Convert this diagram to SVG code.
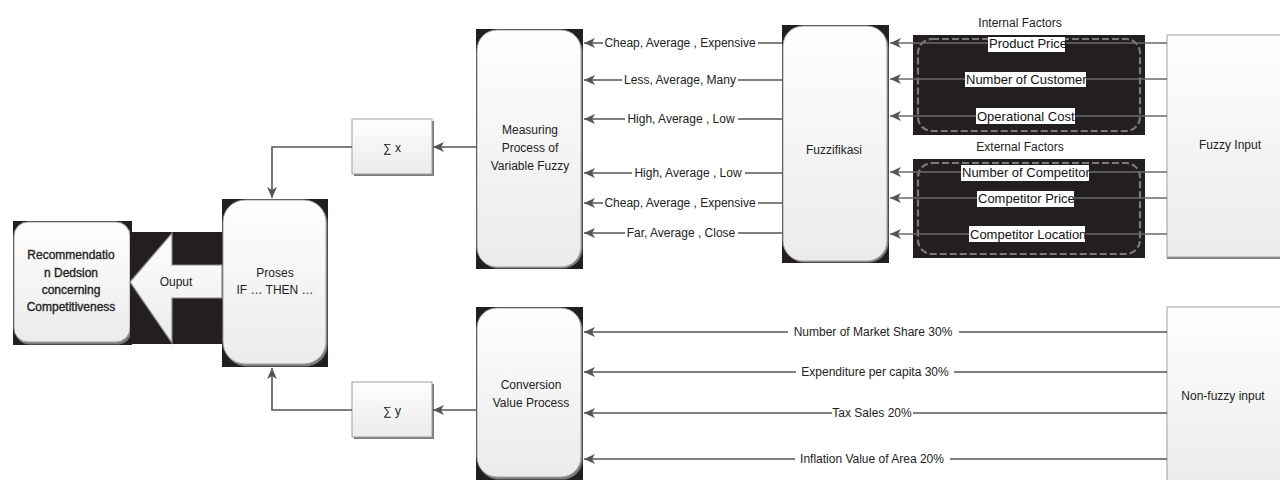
<svg xmlns="http://www.w3.org/2000/svg" width="1280" height="480" viewBox="0 0 1280 480">
<style>
.t{font-family:"Liberation Sans",Arial,sans-serif;font-size:12px;fill:#222;text-anchor:middle}
.tb{font-family:"Liberation Sans",Arial,sans-serif;font-size:12px;fill:#222;text-anchor:middle;stroke:#222;stroke-width:0.35}
.fl{font-family:"Liberation Sans",Arial,sans-serif;font-size:13px;fill:#111;text-anchor:start}
.bk{fill:#231f20}
.box{fill:url(#g);stroke:#a0a0a0;stroke-width:1}
.sh{fill:#7a7a7a}
.dash{fill:none;stroke:#7a7a7a;stroke-width:2.2;stroke-dasharray:7 3}
.c{stroke:#555;stroke-width:1.6;fill:none;marker-end:url(#a)}
.cl{stroke:#6a6a6a;stroke-width:1.6;fill:none;marker-end:url(#a)}
.wb{fill:#fff}
</style>
<defs>
<linearGradient id="g" x1="0" y1="0" x2="0" y2="1">
<stop offset="0" stop-color="#fefefe"/>
<stop offset="1" stop-color="#ebebeb"/>
</linearGradient>
<marker id="a" markerUnits="userSpaceOnUse" markerWidth="12" markerHeight="10" refX="11" refY="5" orient="auto">
<path d="M0,0 L11,5 L0,10 L3,5 z" fill="#555"/>
</marker>
</defs>
<rect width="1280" height="480" fill="#fff"/>

<g id="recommendation">
<rect class="bk" x="13" y="221" width="119" height="124"/>
<rect class="sh" x="15.5" y="224.5" width="116" height="120" rx="14"/>
<rect class="box" x="14" y="222" width="116" height="120" rx="14"/>
<text class="tb" x="71" y="259">Recommendatio</text>
<text class="tb" x="71" y="277">n Dedsion</text>
<text class="tb" x="71" y="294">concerning</text>
<text class="tb" x="71" y="311">Competitiveness</text>
</g>

<g id="proses">
<rect class="bk" x="222" y="199" width="106" height="168"/>
<rect class="sh" x="224.5" y="201.5" width="103" height="165" rx="22"/>
<rect class="box" x="223" y="200" width="103" height="164" rx="22"/>
<text class="t" x="275" y="277">Proses</text>
<text class="t" x="275" y="294">IF … THEN …</text>
</g>

<g id="sumx">
<rect class="sh" x="354" y="121" width="80" height="55"/>
<rect class="box" x="352" y="119" width="80" height="55"/>
<text class="t" x="392" y="152">∑ x</text>
</g>

<g id="sumy">
<rect class="sh" x="354" y="384" width="80" height="55"/>
<rect class="box" x="352" y="382" width="80" height="55"/>
<text class="t" x="392" y="415">∑ y</text>
</g>

<g id="measuring">
<rect class="bk" x="476" y="29" width="107" height="240"/>
<rect class="sh" x="478.5" y="31.5" width="104" height="237" rx="20"/>
<rect class="box" x="477" y="30" width="104" height="237" rx="20"/>
<text class="t" x="530" y="134">Measuring</text>
<text class="t" x="530" y="152">Process of</text>
<text class="t" x="530" y="170">Variable Fuzzy</text>
</g>

<g id="conversion">
<rect class="bk" x="476" y="307" width="107" height="173"/>
<rect class="sh" x="478.5" y="309.5" width="104" height="170" rx="20"/>
<rect class="box" x="477" y="308" width="104" height="169" rx="20"/>
<text class="t" x="531" y="389">Conversion</text>
<text class="t" x="531" y="407">Value Process</text>
</g>

<g id="fuzzifikasi">
<rect class="bk" x="782" y="25" width="107" height="238"/>
<rect class="sh" x="784.5" y="27.5" width="104" height="235" rx="20"/>
<rect class="box" x="783" y="26" width="104" height="235" rx="20"/>
<text class="t" x="834" y="154">Fuzzifikasi</text>
</g>

<g id="internal-factors">
<text class="t" x="1020" y="27">Internal Factors</text>
<rect class="bk" x="913" y="35" width="232" height="100"/>
<rect class="dash" x="918" y="39" width="222" height="92" rx="14"/>
</g>

<g id="external-factors">
<text class="t" x="1020" y="151">External Factors</text>
<rect class="bk" x="913" y="159" width="232" height="99"/>
<rect class="dash" x="918" y="163" width="222" height="91" rx="14"/>
</g>

<g id="fuzzy-input">
<rect class="sh" x="1167" y="37" width="120" height="222"/>
<rect class="box" x="1167" y="35" width="120" height="222"/>
<text class="t" x="1230" y="149">Fuzzy Input</text>
</g>

<g id="non-fuzzy-input">
<rect class="box" x="1167" y="307" width="120" height="180"/>
<text class="t" x="1223" y="400">Non-fuzzy input</text>
</g>

<g id="connectors">
<rect class="bk" x="130" y="232" width="92" height="112"/>
<polygon points="130,282 172,233 172,265 222,265 222,298 172,298 172,343" fill="url(#g)" stroke="#8a8a8a" stroke-width="1.2"/>
<text class="t" x="176" y="286">Ouput</text>

<path class="c" d="M476,147 H433"/>
<path class="c" d="M352,147 H272 V198"/>
<path class="c" d="M476,410 H433"/>
<path class="c" d="M352,410 H272 V368"/>

<path class="cl" d="M1167,43 H890"/>
<path class="cl" d="M1167,79 H890"/>
<path class="cl" d="M1167,116 H890"/>
<path class="cl" d="M1167,172 H890"/>
<path class="cl" d="M1167,198 H890"/>
<path class="cl" d="M1167,234 H890"/>
<rect class="wb" x="988" y="37" width="77" height="15"/>
<text class="fl" x="989" y="48">Product Price</text>
<rect class="wb" x="965" y="72" width="121" height="15"/>
<text class="fl" x="966" y="84">Number of Customer</text>
<rect class="wb" x="976" y="108" width="99" height="16"/>
<text class="fl" x="977" y="121">Operational Cost</text>
<rect class="wb" x="961" y="165" width="128" height="16"/>
<text class="fl" x="962" y="177">Number of Competitor</text>
<rect class="wb" x="977" y="191" width="97" height="16"/>
<text class="fl" x="978" y="203">Competitor Price</text>
<rect class="wb" x="969" y="226" width="116" height="16"/>
<text class="fl" x="970" y="239">Competitor Location</text>

<path class="c" d="M782,43 H584"/>
<path class="c" d="M782,80 H584"/>
<path class="c" d="M782,119 H584"/>
<path class="c" d="M782,173 H584"/>
<path class="c" d="M782,203 H584"/>
<path class="c" d="M782,233 H584"/>
<rect class="wb" x="603" y="36" width="155" height="14"/>
<text class="t" x="680" y="47">Cheap, Average , Expensive</text>
<rect class="wb" x="622" y="73" width="116" height="14"/>
<text class="t" x="680" y="84">Less, Average, Many</text>
<rect class="wb" x="625" y="112" width="113" height="14"/>
<text class="t" x="681" y="123">High, Average , Low</text>
<rect class="wb" x="632" y="166" width="113" height="14"/>
<text class="t" x="688" y="177">High, Average , Low</text>
<rect class="wb" x="603" y="196" width="155" height="14"/>
<text class="t" x="680" y="207">Cheap, Average , Expensive</text>
<rect class="wb" x="625" y="226" width="113" height="14"/>
<text class="t" x="681" y="237">Far, Average , Close</text>

<path class="c" d="M1167,332 H584"/>
<path class="c" d="M1167,372 H584"/>
<path class="c" d="M1167,413 H584"/>
<path class="c" d="M1167,459 H584"/>
<rect class="wb" x="788" y="325" width="171" height="14"/>
<text class="t" x="873" y="336">Number of Market Share 30%</text>
<rect class="wb" x="796" y="365" width="158" height="14"/>
<text class="t" x="875" y="376">Expenditure per capita 30%</text>
<rect class="wb" x="832" y="406" width="81" height="14"/>
<text class="t" x="872" y="417">Tax Sales 20%</text>
<rect class="wb" x="795" y="452" width="155" height="14"/>
<text class="t" x="872" y="463">Inflation Value of Area 20%</text>
</g>
</svg>
